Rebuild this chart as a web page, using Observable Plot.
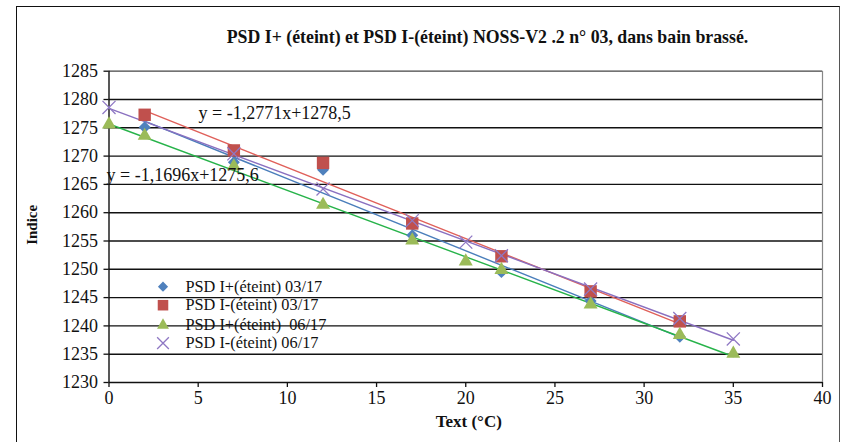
<!DOCTYPE html>
<html>
<head>
<meta charset="utf-8">
<script src="https://cdn.jsdelivr.net/npm/d3@7"></script>
<script src="https://cdn.jsdelivr.net/npm/@observablehq/plot@0.6"></script>
<style>
  html, body { margin: 0; padding: 0; background: #fff; }
  #wrap { position: relative; width: 842px; height: 442px; overflow: hidden; font-family: "Liberation Serif", "Times New Roman", serif; }
  #frame { position: absolute; left: 16px; top: 6px; width: 824px; height: 450px; border-left: 1.5px solid #111; border-top: 1.5px solid #111; border-right: 1px solid #555; box-sizing: border-box; }
  #title { position: absolute; left: 0; width: 975px; top: 27px; line-height: 20px; text-align: center; font-weight: bold; font-size: 17.8px; color: #111; }
  #chart { position: absolute; left: 0; top: 0; }
</style>
</head>
<body>
<div id="wrap">
  <div id="frame"></div>
  <div id="title">PSD I+ (éteint) et PSD I-(éteint) NOSS-V2 .2 n° 03, dans bain brassé.</div>
  <div id="chart"></div>
</div>
<script>
// ---- data ----
const xTicks = [0, 5, 10, 15, 20, 25, 30, 35, 40];
const yTicks = [1230, 1235, 1240, 1245, 1250, 1255, 1260, 1265, 1270, 1275, 1280, 1285];

const temps03 = [2, 7, 12, 17, 22, 27, 32];
const psdIplus03 = [1275.1, 1268.9, 1267.6, 1256.0, 1249.5, 1244.4, 1238.1];
const psdImoins03 = [1277.3, 1271.0, 1268.8, 1258.1, 1252.3, 1246.1, 1240.8];

const temps06plus = [0, 2, 7, 12, 17, 20, 22, 27, 32, 35];
const psdIplus06 = [1275.6, 1273.6, 1268.2, 1261.4, 1255.1, 1251.4, 1249.9, 1243.8, 1238.4, 1235.1];

const temps06moins = [0, 7, 12, 17, 20, 22, 27, 32, 35];
const psdImoins06 = [1278.6, 1270.4, 1264.2, 1258.6, 1254.8, 1252.4, 1246.5, 1241.3, 1237.7];

const seriesNames = ["PSD I+(éteint) 03/17", "PSD I-(éteint) 03/17", "PSD I+(éteint)  06/17", "PSD I-(éteint) 06/17"];
const equations = ["y = -1,2771x+1278,5", "y = -1,1696x+1275,6"];

// ---- build ----
const series = [
  {name: seriesNames[0], xs: temps03, ys: psdIplus03, symbol: "diamond2", marker: "#4F81BD", line: "#4A7EBB", r: 5.4, filled: true},
  {name: seriesNames[1], xs: temps03, ys: psdImoins03, symbol: "square", marker: "#C0504D", line: "#E0605A", r: 7, filled: true},
  {name: seriesNames[2], xs: temps06plus, ys: psdIplus06, symbol: "triangle", marker: "#9BBB59", line: "#27B34A", r: 5.2, filled: true},
  {name: seriesNames[3], xs: temps06moins, ys: psdImoins06, symbol: "times", marker: "#8F78C4", line: "#8A70C0", r: 6, filled: false}
];
series.forEach(s => { s.data = s.xs.map((x, i) => ({x, y: s.ys[i]})); });

const font = '"Liberation Serif", "Times New Roman", serif';
const marks = [];

// grid
marks.push(Plot.ruleY(yTicks.filter(v => v > 1230 && v < 1285), {stroke: "#111", strokeWidth: 1.4}));
marks.push(Plot.ruleY([1285], {stroke: "#444", strokeWidth: 1.2}));
marks.push(Plot.ruleX([40], {stroke: "#888", strokeWidth: 1.2}));
marks.push(Plot.ruleY([1230], {stroke: "#111", strokeWidth: 1.4}));
marks.push(Plot.ruleX([0], {stroke: "#111", strokeWidth: 1.4}));

// axes
marks.push(Plot.axisY({ticks: yTicks, tickSize: 5, tickPadding: 6, fontSize: 18, stroke: "#111", strokeWidth: 1.3, label: null, tickFormat: d => String(d)}));
marks.push(Plot.axisX({ticks: xTicks, tickSize: 5, tickPadding: 4, fontSize: 18, stroke: "#111", strokeWidth: 1.3, label: null, tickFormat: d => String(d)}));

// trendlines
series.forEach(s => {
  marks.push(Plot.linearRegressionY(s.data, {x: "x", y: "y", stroke: s.line, strokeWidth: 1.4, ci: 0}));
});

// markers
series.forEach(s => {
  if (s.filled) marks.push(Plot.dot(s.data, {x: "x", y: "y", symbol: () => s.symbol, r: s.r, fill: s.marker, stroke: "none"}));
  else marks.push(Plot.dot(s.data, {x: "x", y: "y", symbol: () => s.symbol, r: s.r, stroke: s.marker, strokeWidth: 1.3, fill: "none"}));
});

// equation labels
marks.push(Plot.text([equations[0]], {text: d => d, frameAnchor: "top-left", dx: 89.5, dy: 42.3, textAnchor: "start", lineAnchor: "middle", fontSize: 18, fill: "#111"}));
marks.push(Plot.text([equations[1]], {text: d => d, frameAnchor: "top-left", dx: -2.5, dy: 104.3, textAnchor: "start", lineAnchor: "middle", fontSize: 18, fill: "#111"}));

// legend
series.forEach((s, i) => {
  const dy = [215.5, 234, 254, 272][i];
  if (s.filled) marks.push(Plot.dot([s.name], {frameAnchor: "top-left", dx: 54, dy, symbol: () => s.symbol, r: s.r * 0.85, fill: s.marker, stroke: "none"}));
  else marks.push(Plot.dot([s.name], {frameAnchor: "top-left", dx: 54, dy, symbol: () => s.symbol, r: s.r * 0.9, stroke: s.marker, strokeWidth: 1.3, fill: "none"}));
  marks.push(Plot.text([s.name], {text: d => d, frameAnchor: "top-left", dx: 76.5, dy, textAnchor: "start", lineAnchor: "middle", fontSize: 16.3, fill: "#111"}));
});

// axis titles
marks.push(Plot.text(["Indice"], {text: d => d, frameAnchor: "left", dx: -77, dy: -2, rotate: -90, textAnchor: "middle", lineAnchor: "middle", fontWeight: "bold", fontSize: 15, fill: "#111"}));
marks.push(Plot.text(["Text (°C)"], {text: d => d, frameAnchor: "bottom", dx: 3, dy: 39, textAnchor: "middle", lineAnchor: "middle", fontWeight: "bold", fontSize: 17, fill: "#111"}));

const chart = Plot.plot({
  width: 842,
  height: 442,
  marginLeft: 108.5,
  marginRight: 20,
  marginTop: 70.7,
  marginBottom: 60,
  style: {fontFamily: font, fontSize: "18px", background: "transparent", color: "#111", overflow: "visible"},
  x: {domain: [0, 40]},
  y: {domain: [1230, 1285]},
  symbol: {type: "identity"},
  marks
});
document.getElementById("chart").appendChild(chart);
</script>
</body>
</html>
